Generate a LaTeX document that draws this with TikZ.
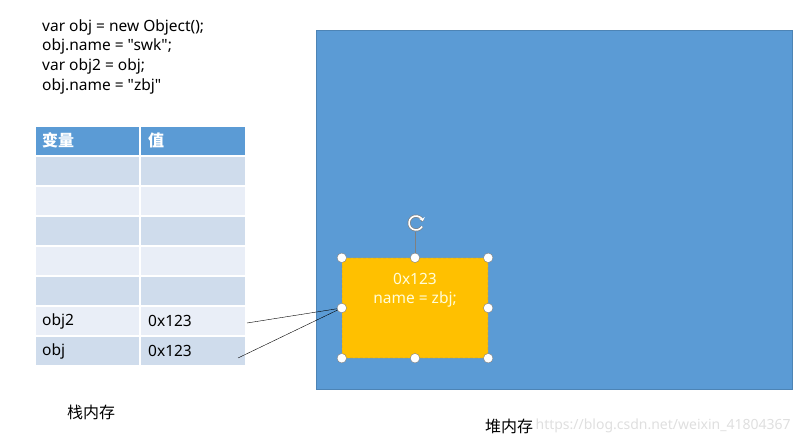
\documentclass[tikz,border=0pt]{standalone}
\usepackage{fontspec}
\setmainfont{Noto Sans}[Ligatures=TeXOff]
\newfontfamily\cjk{Noto Sans CJK SC}
\usetikzlibrary{positioning,arrows.meta}
\definecolor{heapblue}{HTML}{5B9BD5}
\definecolor{rowdark}{HTML}{CFDCEC}
\definecolor{rowlight}{HTML}{E9EEF7}
\definecolor{objorange}{HTML}{FFC000}

\begin{document}
\begin{tikzpicture}[x=1pt,y=-1pt,
	every node/.style={font=\fontsize{15.5}{18}\selectfont, inner sep=0pt},
	codeline/.style={anchor=west},
	hdr/.style={anchor=west, text=white, font=\fontsize{16}{18}\selectfont\cjk\bfseries},
	cjklbl/.style={anchor=west, font=\fontsize{16}{18}\selectfont\cjk},
	heapbox/.style={draw=heapblue!85!black, fill=heapblue},
	objbox/.style={draw=gray, densely dashed, fill=objorange, rounded corners=2pt},
	handle/.style={circle, draw=gray, fill=white, minimum size=9.5pt}]
\useasboundingbox (0,0) rectangle (807,441);

% code
\node[codeline] (l1) at (42,27) {var obj = new Object();};
\node[codeline] (l2) at (42,46) {obj.name = "swk";};
\node[codeline] (l3) at (42,66) {var obj2 = obj;};
\node[codeline] (l4) at (42,86) {obj.name = "zbj"};

% stack table
\fill[heapblue] (36,127) rectangle (245,155);
\draw[white, line width=2pt] (140,127) -- (140,155);
\foreach \i/\c in {1/rowdark,2/rowlight,3/rowdark,4/rowlight,5/rowdark,6/rowlight,7/rowdark}{
	\fill[\c] (36,127+30*\i) rectangle (139,155+30*\i);
	\fill[\c] (141,127+30*\i) rectangle (245,155+30*\i);
}
\node[hdr] (var) at (42,140) {变量};
\node[hdr] (val) at (148,140) {值};
\node[codeline] (n2) at (42,321) {obj2};
\node[codeline] (v2) at (148,321) {0x123};
\node[codeline] (n1) at (42,351) {obj};
\node[codeline] (v1) at (148,351) {0x123};

% heap
\node[heapbox, minimum width=476pt, minimum height=359pt] (heap) at (554,209.5) {};
\node[objbox, minimum width=146pt, minimum height=100pt] (obj) at (415,308) {};
\node[text=white!85!yellow] (addr) at (415,279) {0x123};
\node[text=white!85!yellow] (prop) at (415,299) {name = zbj;};

\coordinate (from2) at (247,323);
\coordinate (from1) at (238,358);
\draw (from2) -- (obj.west);
\draw (from1) -- (obj.west);

\draw[gray] (obj.north) -- (415,232) coordinate (rot);
\draw[gray, line width=3pt] (422.1,226.5) arc (30:345:7);
\draw[white, line width=1.6pt, -{Stealth[length=3.5pt,width=6pt]}] (422.1,226.5) arc (30:345:7);
\foreach \a [count=\k] in {north west,north,north east,east,south east,south,south west,west}
	\node[handle] (h\k) at (obj.\a) {};

% labels
\node[cjklbl] (stack) at (67,412) {栈内存};
\node[cjklbl] (heaplbl) at (485,426) {堆内存};
\node[anchor=west, text=gray!25, font=\fontsize{14}{16}\selectfont, right=2pt of heaplbl] (mark) {https://blog.csdn.net/weixin\_41804367};
\end{tikzpicture}
\end{document}
